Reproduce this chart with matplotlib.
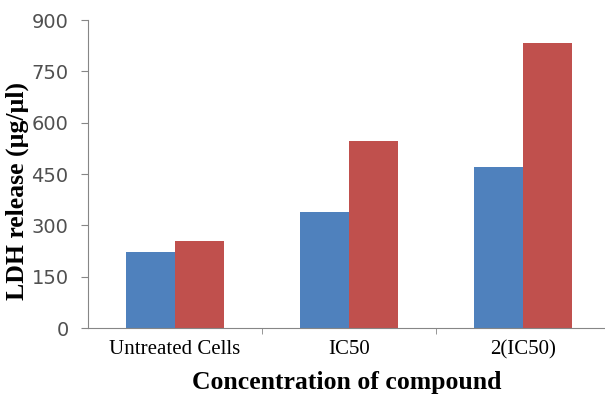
import numpy as np
import matplotlib.pyplot as plt

categories = ['Untreated Cells', 'IC50', '2(IC50)']
series_a = [222, 340, 470]
series_b = [255, 547, 834]
yticks = [0, 150, 300, 450, 600, 750, 900]

fig = plt.figure(figsize=(6.05, 3.96), dpi=100)
ax = fig.add_axes([88/605, 68/396, 1 - 88/605, 308/396])

x = np.arange(len(categories))
w = 0.28
ax.bar(x - w/2, series_a, width=w, color='#4F81BD')
ax.bar(x + w/2, series_b, width=w, color='#C0504D')

ax.set_xlim(-0.5, 2.47)
ax.set_ylim(0, 900)
ax.set_yticks(yticks)
ax.set_yticklabels([str(v) for v in yticks], fontfamily='DejaVu Sans',
                   fontsize=14, color='#505050')

ax.set_xticks(x)
ax.set_xticklabels(categories, fontfamily='Liberation Serif', fontsize=15)
ax.tick_params(axis='x', length=0, pad=9)
ax.set_xticks([0.5, 1.5], minor=True)
ax.tick_params(axis='x', which='minor', length=4, color='#868686')
ax.tick_params(axis='y', length=5, color='#868686', pad=9)

for s in ['top', 'right']:
    ax.spines[s].set_visible(False)
for s in ['left', 'bottom']:
    ax.spines[s].set_color('#868686')

ax.set_ylabel('LDH release (µg/µl)', fontfamily='Liberation Serif',
              fontweight='bold', fontsize=18.5, va='center')
ax.yaxis.set_label_coords(-0.136, 0.445)
ax.set_xlabel('Concentration of compound', fontfamily='Liberation Serif',
              fontweight='bold', fontsize=18.5, labelpad=8)

fig.savefig('out.png', dpi=100)
